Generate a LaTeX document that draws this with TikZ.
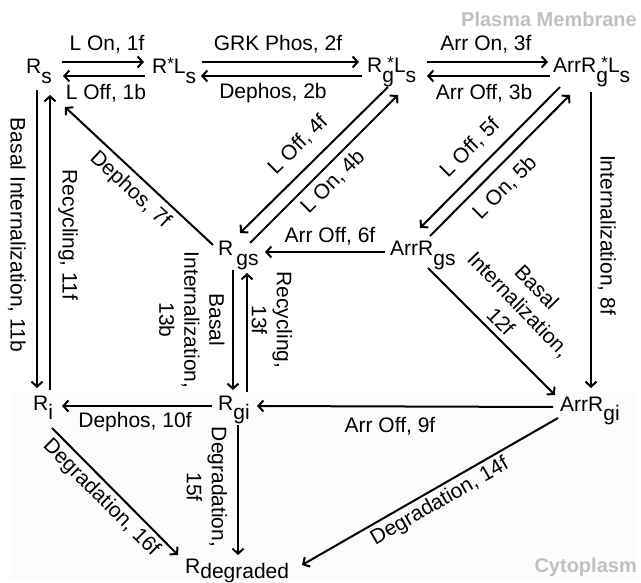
\documentclass[tikz,border=0pt]{standalone}
\usepackage{fontspec}
\setmainfont{Liberation Sans}
\usetikzlibrary{arrows.meta}

\newcommand{\dn}[1]{\raisebox{-0.45em}{#1}}
\newcommand{\upstar}{\raisebox{0.2em}{\fontsize{17}{17}\selectfont *}}

\definecolor{regiongray}{RGB}{192,192,192}
\definecolor{cytotint}{RGB}{250,252,253}

\begin{document}
\begin{tikzpicture}[x=1pt,y=-1pt,
  every node/.style={inner sep=0pt,font=\fontsize{21}{25}\selectfont},
  species/.style={anchor=base west},
  rate/.style={align=center},
  region/.style={anchor=base east,text=regiongray,font=\fontsize{20}{24}\selectfont\bfseries},
  flux/.style={line width=2pt,-{Straight Barb[length=5pt,width=11pt]}}]

\useasboundingbox (0,0) rectangle (641,583);

% Cytoplasm shading
\fill[cytotint] (10,392) rectangle (638,581);

% Compartments
\node[region] (pm) at (637,27) {Plasma Membrane};
\node[region] (cyto) at (637,572) {Cytoplasm};

% Species
\node[species] (Rs) at (26,74) {R\dn{s}};
\node[species] (RLs) at (152,74) {R\upstar L\dn{s}};
\node[species] (RgLs) at (367,73) {R\dn{g}\llap{\upstar}L\dn{s}};
\node[species] (ArrRgLs) at (553,73) {ArrR\dn{g}\llap{\upstar}L\dn{s}};
\node[species] (Rgs) at (218,256) {R\kern3pt\dn{gs}};
\node[species] (ArrRgs) at (390,256) {ArrR\dn{gs}};
\node[species] (Ri) at (33,410) {R\dn{i}};
\node[species] (Rgi) at (218,410) {R\dn{gi}};
\node[species] (ArrRgi) at (560,411) {ArrR\dn{gi}};
\node[species] (Rdeg) at (185,573) {R\raisebox{-0.25em}{degraded}};

% Top row, forward and back
\draw[flux] ([shift={(36,-12)}]Rs.base west) -- ([shift={(-8,-12)}]RLs.base west);
\draw[flux] ([shift={(-7,2)}]RLs.base west) -- ([shift={(37,2)}]Rs.base west);
\draw[flux] ([shift={(50,-12)}]RLs.base west) -- ([shift={(-8,-11)}]RgLs.base west);
\draw[flux] ([shift={(-5,3)}]RgLs.base west) -- ([shift={(49,2)}]RLs.base west);
\draw[flux] ([shift={(60,-11)}]RgLs.base west) -- ([shift={(-5,-11)}]ArrRgLs.base west);
\draw[flux] ([shift={(-3,3)}]ArrRgLs.base west) -- ([shift={(60,3)}]RgLs.base west);
\node (l1f) at (107,44) {L On, 1f};
\node (l1b) at (106,93) {L Off, 1b};
\node (l2f) at (278,44) {GRK Phos, 2f};
\node (l2b) at (273,93) {Dephos, 2b};
\node (l3f) at (486,44) {Arr On, 3f};
\node (l3b) at (484,93) {Arr Off, 3b};

% Left column
\draw[flux] ([shift={(11,16)}]Rs.base west) -- ([shift={(4,-22)}]Ri.base west);
\draw[flux] ([shift={(17,-20)}]Ri.base west) -- ([shift={(24,21)}]Rs.base west);
\node[rotate=-90] (l11b) at (17,235) {Basal Internalization, 11b};
\node[rotate=-90] (l11f) at (68,235) {Recycling, 11f};

% Diagonals to and from Rgs
\draw[flux] ([shift={(-5,-11)}]Rgs.base west) -- ([shift={(39,33)}]Rs.base west);
\draw[flux] ([shift={(21,14)}]RgLs.base west) -- ([shift={(22,-23)}]Rgs.base west);
\draw[flux] ([shift={(32,-13)}]Rgs.base west) -- ([shift={(31,22)}]RgLs.base west);
\node[rotate=-43] (l7f) at (130,190) {Dephos, 7f};
\node[rotate=45] (l4f) at (298,145) {L Off, 4f};
\node[rotate=45] (l4b) at (333,182) {L On, 4b};

% ArrRgs
\draw[flux] ([shift={(7,14)}]ArrRgLs.base west) -- ([shift={(30,-28)}]ArrRgs.base west);
\draw[flux] ([shift={(40,-20)}]ArrRgs.base west) -- ([shift={(17,22)}]ArrRgLs.base west);
\draw[flux] ([shift={(-5,-4)}]ArrRgs.base west) -- ([shift={(47,-4)}]Rgs.base west);
\node[rotate=45] (l5f) at (470,148) {L Off, 5f};
\node[rotate=45] (l5b) at (505,188) {L On, 5b};
\node (l6f) at (330,236) {Arr Off, 6f};

% Internalization
\draw[flux] ([shift={(38,19)}]ArrRgLs.base west) -- ([shift={(31,-23)}]ArrRgi.base west);
\draw[flux] ([shift={(38,12)}]ArrRgs.base west) -- ([shift={(-5,-16)}]ArrRgi.base west);
\draw[flux] ([shift={(15,14)}]Rgs.base west) -- ([shift={(15,-20)}]Rgi.base west);
\draw[flux] ([shift={(29,-18)}]Rgi.base west) -- ([shift={(29,17)}]Rgs.base west);
\node[rotate=-90] (l8f) at (607,235) {Internalization, 8f};
\node[rate,rotate=-46] (l12f) at (519,304) {Basal\\Internalization,\\12f};
\node[rate,rotate=-90] (l13b) at (192,320) {Basal\\Internalization,\\13b};
\node[rate,rotate=-90] (l13f) at (272,320) {Recycling,\\13f};

% Internal row
\draw[flux] ([shift={(-7,-4)}]ArrRgi.base west) -- ([shift={(39,-4)}]Rgi.base west);
\draw[flux] ([shift={(-6,-4)}]Rgi.base west) -- ([shift={(29,-4)}]Ri.base west);
\node (l9f) at (390,426) {Arr Off, 9f};
\node (l10f) at (135,422) {Dephos, 10f};

% Degradation
\draw[flux] ([shift={(20,15)}]Rgi.base west) -- ([shift={(53,-18)}]Rdeg.base west);
\draw[flux] ([shift={(19,18)}]Ri.base west) -- ([shift={(-7,-18)}]Rdeg.base west);
\draw[flux] ([shift={(-2,7)}]ArrRgi.base west) -- ([shift={(117,-8)}]Rdeg.base west);
\node[rate,rotate=-90] (l15f) at (207,487) {Degradation,\\15f};
\node[rotate=-45] (l16f) at (101,498) {Degradation, 16f};
\node[rotate=30] (l14f) at (440,502) {Degradation, 14f};

\end{tikzpicture}
\end{document}
